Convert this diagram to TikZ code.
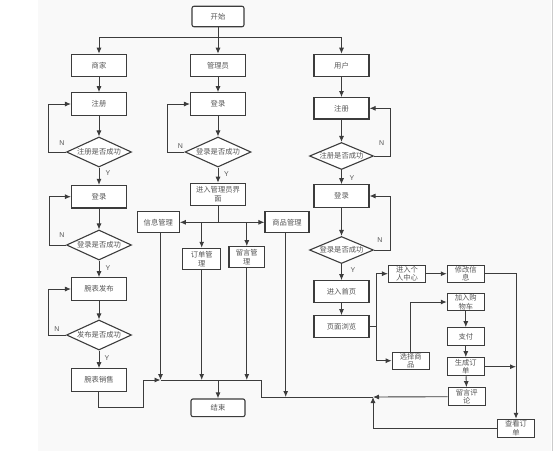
\documentclass[tikz,border=0pt]{standalone}
\usepackage{fontspec}
\setmainfont{Liberation Sans}
\newfontfamily\cjk{Noto Sans CJK SC}
\usetikzlibrary{shapes.geometric,arrows.meta}
\definecolor{ln}{HTML}{3C3C3C}
\definecolor{tx}{HTML}{555555}
\definecolor{bg}{HTML}{F9F9F9}
\tikzset{
  box/.style={draw=ln,line width=1.1pt,fill=white,rectangle,inner sep=0pt,
    minimum width=55pt,minimum height=22.5pt,font=\cjk\fontsize{7.3}{8.6}\selectfont,
    text=tx,align=center},
  smallbox/.style={box,minimum width=37pt,minimum height=18pt},
  rbox/.style={box,rounded corners=2pt},
  dec/.style={draw=ln,line width=1.1pt,fill=white,diamond,aspect=2.17,inner sep=0pt,
    minimum width=65pt,minimum height=30pt,font=\cjk\fontsize{7.3}{8.6}\selectfont,text=tx},
  arr/.style={draw=ln,line width=0.9pt,-{Latex[length=6pt,width=5pt]}},
  ln/.style={draw=ln,line width=0.9pt},
  lab/.style={font=\fontsize{7}{8}\selectfont,text=tx,inner sep=0pt}
}
\begin{document}
\begin{tikzpicture}[x=1pt,y=-1pt]
\useasboundingbox (0,0) rectangle (554,451);
\fill[white] (0,0) rectangle (554,451);
\fill[bg] (38,0) rectangle (551,451);
\draw[gray!40,line width=0.8pt] (552,0) -- (552,451);

% top
\node[rbox,minimum width=52pt,minimum height=20.5pt] (start) at (218,16.5) {开始};
\coordinate (j0) at (218,37.3);

% merchant column
\node[box] (mer) at (99,65.5) {商家};
\node[box] (mreg) at (99,104) {注册};
\node[dec] (md1) at (99,152) {注册是否成功};
\node[box] (mlog) at (99,196.7) {登录};
\node[dec] (md2) at (99,245) {登录是否成功};
\node[box] (mpub) at (99,289) {腕表发布};
\node[dec] (md3) at (99,335) {发布是否成功};
\node[box] (msale) at (99,380) {腕表销售};

% admin column
\node[box] (adm) at (218,65.5) {管理员};
\node[box] (alog) at (218,104) {登录};
\node[dec,minimum width=66pt] (ad1) at (218,152) {登录是否成功};
\node[box,minimum height=22.5pt] (enter) at (218,194.5) {进入管理员界\\面};
\node[box,minimum width=42pt,minimum height=21pt] (info) at (158.3,222.3) {信息管理};
\node[box,minimum width=44pt,minimum height=21pt] (goods) at (287,222.3) {商品管理};
\node[box,minimum width=38pt,minimum height=21pt] (ordm) at (201.7,258.8) {订单管\\理};
\node[box,minimum width=35.7pt,minimum height=20.6pt] (msgm) at (246.8,257) {留言管\\理};
\node[rbox,minimum width=54pt,minimum height=17.7pt] (end) at (218,407.8) {结束};

% user column
\node[box] (usr) at (341.5,65.5) {用户};
\node[box,minimum height=21.3pt] (ureg) at (341.5,108.3) {注册};
\node[dec,minimum width=64pt,minimum height=27pt] (ud1) at (341.5,156) {注册是否成功};
\node[box] (ulog) at (341.5,196) {登录};
\node[dec,minimum width=64pt,minimum height=27pt] (ud2) at (341.5,250) {登录是否成功};
\node[box,minimum height=21.6pt] (home) at (341.5,291.5) {进入首页};
\node[box,minimum height=21.6pt] (browse) at (341.5,326.5) {页面浏览};
\node[smallbox,minimum height=17.3pt] (center) at (407,273.7) {进入个\\人中心};
\node[smallbox,minimum height=17.3pt] (modify) at (465.8,273.7) {修改信\\息};
\node[smallbox,minimum height=17.7pt] (cart) at (465.8,302) {加入购\\物车};
\node[smallbox,minimum height=16.7pt] (select) at (410.7,360.7) {选择商\\品};
\node[smallbox,minimum height=18pt] (pay) at (465.8,336.7) {支付};
\node[smallbox,minimum height=18pt] (gen) at (465.8,366.7) {生成订\\单};
\node[smallbox,minimum height=18pt] (cmt) at (466.7,396.7) {留言评\\论};
\node[smallbox,minimum height=18pt] (view) at (516,428.3) {查看订\\单};

% top connections
\draw[arr] (start) -- (adm);
\draw[arr] (j0) -| (mer);
\draw[arr] (j0) -| (usr);

% merchant flow
\draw[arr] (mer) -- (mreg);
\draw[arr] (mreg) -- (md1);
\draw[arr] (md1) -- (mlog);
\draw[arr] (md1.west) -- ++(-17.7,0) |- (mreg.west);
\draw[arr] (mlog) -- (md2);
\draw[arr] (md2) -- (mpub);
\draw[arr] (md2.west) -- ++(-16.7,0) |- (mlog.west);
\draw[arr] (mpub) -- (md3);
\draw[arr] (md3) -- (msale);
\draw[arr] (md3.west) -- ++(-17.4,0) |- (mpub.west);
\node[lab] (mn1) at (62,143) {N};
\node[lab] (my1) at (108,173) {Y};
\node[lab] (mn2) at (62,235) {N};
\node[lab] (my2) at (108,268) {Y};
\node[lab] (mn3) at (57,329) {N};
\node[lab] (my3) at (107,358) {Y};

% bottom merge
\coordinate (jA) at (160.5,380);
\coordinate (jB) at (261,380);
\coordinate (jC) at (261,397);
\coordinate (jD) at (373,397);
\coordinate (jE) at (218,380);
\coordinate (ms1) at (98,407.3);
\coordinate (ms2) at (143.3,407.3);
\coordinate (ms3) at (143.3,380);
\draw[ln] (jA) -- (jB) -- (jC) -- (jD);
\draw[ln] (msale.south -| ms1) -- (ms1) -- (ms2) -- (ms3);
\draw[arr] (ms3) -- (jA);
\draw[arr] (jE) -- (end);

% admin flow
\draw[arr] (adm) -- (alog);
\draw[arr] (alog) -- (ad1);
\draw[arr] (ad1) -- (enter);
\draw[arr] (ad1.west) -- ++(-16.7,0) |- (alog.west);
\node[lab] (an1) at (180.5,146) {N};
\node[lab] (ay1) at (226.5,174) {Y};
\coordinate (jF) at (218,222.3);
\draw[ln] (enter) -- (jF);
\draw[arr] (jF) -- (info.east);
\draw[arr] (jF) -- (goods.west);
\draw[arr] (ordm |- jF) -- (ordm);
\draw[arr] (msgm |- jF) -- (msgm);
\draw[arr] (info.south -| jA) -- (jA);
\draw[arr] (ordm) -- (ordm |- jA);
\draw[arr] (msgm) -- (msgm |- jA);
\draw[arr] (goods.south -| 285.7,0) -- (285.7,397);

% user flow
\draw[arr] (usr) -- (ureg);
\draw[arr] (ureg) -- (ud1);
\draw[arr] (ud1) -- (ulog);
\draw[arr] (ud1.east) -- ++(16.7,0) |- (ureg.east);
\draw[arr] (ulog) -- (ud2);
\draw[arr] (ud2) -- (home);
\draw[arr] (ud2.east) -- ++(16.7,0) |- (ulog.east);
\draw[arr] (home) -- (browse);
\node[lab] (un1) at (381.7,143.5) {N};
\node[lab] (uy1) at (352,178) {Y};
\node[lab] (un2) at (380,240) {N};
\node[lab] (uy2) at (353,270) {Y};
\coordinate (jG) at (376,326.5);
\draw[ln] (browse.east) -- (jG);
\draw[arr] (jG) |- (center.west);
\draw[arr] (jG) |- (select.west);
\draw[arr] (center) -- (modify);
\draw[arr] (modify.east) -| (view.north);
\draw[arr] (select.north) |- (cart.west);
\draw[arr] (cart) -- (pay);
\draw[arr] (pay) -- (gen);
\draw[arr] (gen) -- (cmt);
\draw[arr] (gen.east) -- (gen.east -| view.north);
\draw[arr] (cmt.west) -- (jD);
\draw[arr] (view.west) -| (jD);
\end{tikzpicture}
\end{document}
